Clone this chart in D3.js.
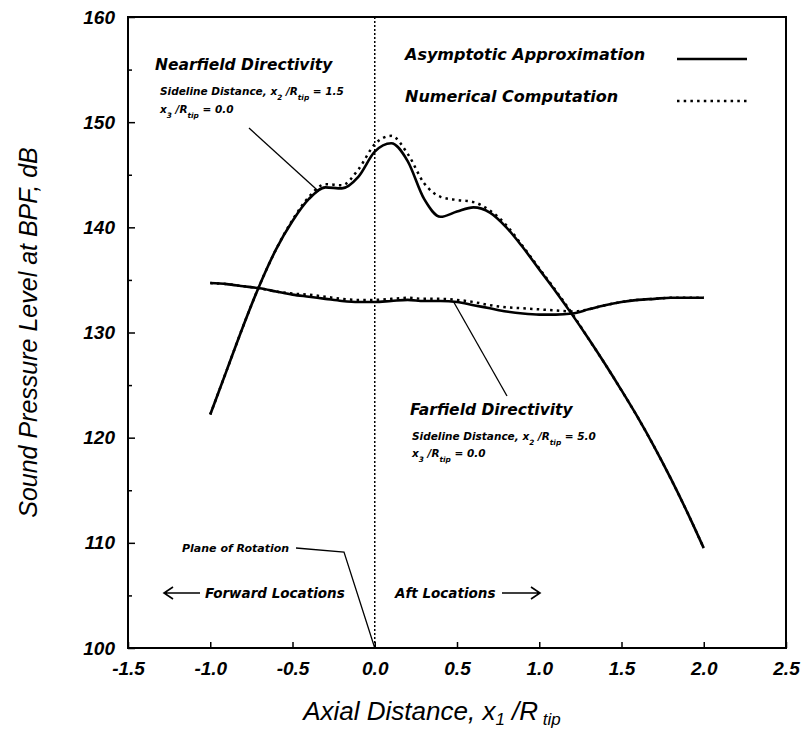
<!doctype html>
<html>
<head>
<meta charset="utf-8">
<script src="https://cdnjs.cloudflare.com/ajax/libs/d3/7.8.5/d3.min.js"></script>
<style>
  body { margin: 0; background: #fff; }
  text { font-family: "Liberation Sans", Arial, Helvetica, sans-serif; fill: #000; }
  .heavy { font-family: "DejaVu Sans", "Liberation Sans", sans-serif; font-weight: bold; font-style: italic; }
</style>
<title>Directivity</title>
</head>
<body>
<div id="chart-area"></div>
<script>
// axial positions x1/Rtip where the curves were read
var axialPos = [-1.0, -0.9, -0.8, -0.7, -0.6, -0.5, -0.4, -0.3, -0.2, -0.1, 0.0,
                0.1, 0.2, 0.3, 0.4, 0.5, 0.6, 0.7, 0.8, 0.9, 1.0,
                1.1, 1.2, 1.3, 1.4, 1.5, 1.6, 1.7, 1.8, 1.9, 2.0];

// nearfield (x2/Rtip = 1.5)
var nearAsymptotic = [122.2, 126.4, 130.6, 134.5, 137.9, 140.6, 142.7, 143.8, 143.7, 144.8, 147.2,
                      148.0, 146.3, 142.7, 141.0, 141.5, 141.9, 141.4, 140.0, 138.1, 136.0,
                      133.9, 131.7, 129.4, 127.0, 124.5, 121.9, 119.1, 116.1, 112.9, 109.5];
var nearNumerical  = [122.2, 126.4, 130.6, 134.5, 137.9, 140.7, 142.9, 144.1, 144.0, 145.5, 147.9,
                      148.7, 147.0, 144.2, 142.9, 142.6, 142.4, 141.6, 140.2, 138.2, 136.1,
                      134.0, 131.8, 129.4, 127.0, 124.5, 121.9, 119.1, 116.1, 112.9, 109.5];

// farfield (x2/Rtip = 5.0)
var farAsymptotic = [134.7, 134.6, 134.4, 134.2, 133.9, 133.6, 133.4, 133.2, 133.0, 132.9, 132.9,
                     133.0, 133.1, 133.0, 133.0, 132.9, 132.6, 132.3, 132.0, 131.8, 131.7,
                     131.7, 131.8, 132.2, 132.6, 132.9, 133.1, 133.2, 133.3, 133.3, 133.3];
var farNumerical  = [134.7, 134.6, 134.4, 134.2, 133.9, 133.7, 133.6, 133.4, 133.2, 133.1, 133.1,
                     133.2, 133.3, 133.2, 133.2, 133.1, 132.9, 132.6, 132.4, 132.3, 132.2,
                     132.1, 132.0, 132.2, 132.6, 132.9, 133.1, 133.2, 133.3, 133.3, 133.3];

var xTicks = [-1.5, -1.0, -0.5, 0.0, 0.5, 1.0, 1.5, 2.0, 2.5];
var yTicks = [100, 110, 120, 130, 140, 150, 160];
var yMinor = [105, 115, 125, 135, 145, 155];

var legendNames = ["Asymptotic Approximation", "Numerical Computation"];

var W = 806, H = 739;
var margin = { left: 128, right: 20, top: 17, bottom: 91 };
var width = W - margin.left - margin.right,
    height = H - margin.top - margin.bottom;

var svg = d3.select("#chart-area").append("svg")
    .attr("width", W)
    .attr("height", H);

var g = svg.append("g")
    .attr("transform", "translate(" + margin.left + "," + margin.top + ")");

var x = d3.scaleLinear().domain([-1.5, 2.5]).range([0, width]);
var y = d3.scaleLinear().domain([100, 160]).range([height, 0]);

// axes with inward ticks
var xAxis = g.append("g")
    .attr("transform", "translate(0," + height + ")")
    .call(d3.axisBottom(x).tickValues(xTicks).tickSize(-6).tickSizeOuter(0)
        .tickPadding(14).tickFormat(function(d) { return d.toFixed(1); }));
var yAxis = g.append("g")
    .call(d3.axisLeft(y).tickValues(yTicks).tickSize(-7).tickSizeOuter(0)
        .tickPadding(13).tickFormat(d3.format("d")));
g.append("g")
    .call(d3.axisLeft(y).tickValues(yMinor).tickSize(-4).tickSizeOuter(0).tickFormat(""));

g.selectAll(".tick line").attr("stroke", "#000").attr("stroke-width", 1.5);
g.selectAll(".domain").remove();
[xAxis, yAxis].forEach(function(a) {
  a.selectAll("text")
    .attr("font-size", "19px")
    .attr("font-weight", "bold")
    .attr("font-style", "italic")
    .attr("fill", "#000");
});

// frame
g.append("rect")
    .attr("width", width)
    .attr("height", height)
    .attr("fill", "none")
    .attr("stroke", "#000")
    .attr("stroke-width", 2);

// plane of rotation
g.append("line")
    .attr("x1", x(0)).attr("x2", x(0))
    .attr("y1", 0).attr("y2", height)
    .attr("stroke", "#000")
    .attr("stroke-width", 1.5)
    .attr("stroke-dasharray", "2,2");

// curves
var line = d3.line()
    .x(function(d) { return x(d[0]); })
    .y(function(d) { return y(d[1]); })
    .curve(d3.curveMonotoneX);

function pairs(vals) { return axialPos.map(function(p, i) { return [p, vals[i]]; }); }

var dotStyle = "2.5,4.2";
var series = [
  { vals: nearNumerical,  dotted: true },
  { vals: farNumerical,   dotted: true },
  { vals: nearAsymptotic, dotted: false },
  { vals: farAsymptotic,  dotted: false }
];
series.forEach(function(s) {
  g.append("path")
    .attr("d", line(pairs(s.vals)))
    .attr("fill", "none")
    .attr("stroke", "#000")
    .attr("stroke-width", s.dotted ? 2.5 : 2.6)
    .attr("stroke-linejoin", "round")
    .attr("stroke-dasharray", s.dotted ? dotStyle : null);
});

// rich text helper: parts are [string, isSub]
function richText(px, py, size, parts) {
  var t = svg.append("text")
      .attr("class", "heavy")
      .attr("x", px).attr("y", py)
      .attr("font-size", size + "px");
  parts.forEach(function(p) {
    var s = t.append("tspan").text(p[0]);
    if (p[1]) {
      s.attr("font-size", (size * 0.7) + "px").attr("baseline-shift", "sub");
    }
  });
  return t;
}

// legend
legendNames.forEach(function(name, i) {
  var ly = 60 + i * 42;
  richText(405, ly, 16, [[name, false]]);
  svg.append("line")
    .attr("x1", 677).attr("x2", 747)
    .attr("y1", ly - 1).attr("y2", ly - 1)
    .attr("stroke", "#000")
    .attr("stroke-width", 2.6)
    .attr("stroke-dasharray", i === 1 ? dotStyle : null);
});

// nearfield annotation
richText(155, 70, 15.5, [["Nearfield Directivity", false]]);
richText(160, 95, 10.5, [["Sideline Distance, x", false], ["2", true], [" /R", false], ["tip", true], [" = 1.5", false]]);
richText(160, 113, 10.5, [["x", false], ["3", true], [" /R", false], ["tip", true], [" = 0.0", false]]);
svg.append("line")
    .attr("x1", 249).attr("y1", 128)
    .attr("x2", margin.left + x(-0.34)).attr("y2", margin.top + y(143.4))
    .attr("stroke", "#000").attr("stroke-width", 1.3);

// farfield annotation
richText(410, 415, 15.5, [["Farfield Directivity", false]]);
richText(412, 440, 10.5, [["Sideline Distance, x", false], ["2", true], [" /R", false], ["tip", true], [" = 5.0", false]]);
richText(412, 457, 10.5, [["x", false], ["3", true], [" /R", false], ["tip", true], [" = 0.0", false]]);
svg.append("line")
    .attr("x1", 507).attr("y1", 396)
    .attr("x2", margin.left + x(0.48)).attr("y2", margin.top + y(132.9))
    .attr("stroke", "#000").attr("stroke-width", 1.3);

// plane of rotation label
richText(182, 552, 11, [["Plane of Rotation", false]]);
svg.append("polyline")
    .attr("points", [[296, 548], [344, 552], [margin.left + x(0), margin.top + y(100)]].join(" "))
    .attr("fill", "none")
    .attr("stroke", "#000").attr("stroke-width", 1.3);

// direction labels
richText(205, 598, 13.5, [["Forward Locations", false]]);
richText(395, 598, 13.5, [["Aft Locations", false]]);
function arrow(x1, x2, yy) {
  var dir = x2 > x1 ? -1 : 1;
  svg.append("path")
    .attr("d", "M" + x1 + "," + yy + "H" + x2 +
      "M" + (x2 + dir * 9) + "," + (yy - 6) + "L" + x2 + "," + yy + "L" + (x2 + dir * 9) + "," + (yy + 6))
    .attr("fill", "none")
    .attr("stroke", "#000")
    .attr("stroke-width", 1.6);
}
arrow(200, 164, 593);
arrow(502, 540, 593);

// axis titles
svg.append("text")
    .attr("transform", "translate(37," + (margin.top + height / 2) + ") rotate(-90)")
    .attr("text-anchor", "middle")
    .attr("font-size", "25px")
    .attr("font-style", "italic")
    .text("Sound Pressure Level at BPF, dB");

var xt = svg.append("text")
    .attr("x", margin.left + width / 2 - 25)
    .attr("y", 720)
    .attr("text-anchor", "middle")
    .attr("font-size", "26px")
    .attr("font-style", "italic");
[["Axial Distance, x", 0], ["1", 5], [" /R", -5], [" tip", 5]].forEach(function(p) {
  var s = xt.append("tspan").text(p[0]).attr("dy", p[1]);
  if (p[1] > 0) s.attr("font-size", "17px");
});
</script>
</body>
</html>
